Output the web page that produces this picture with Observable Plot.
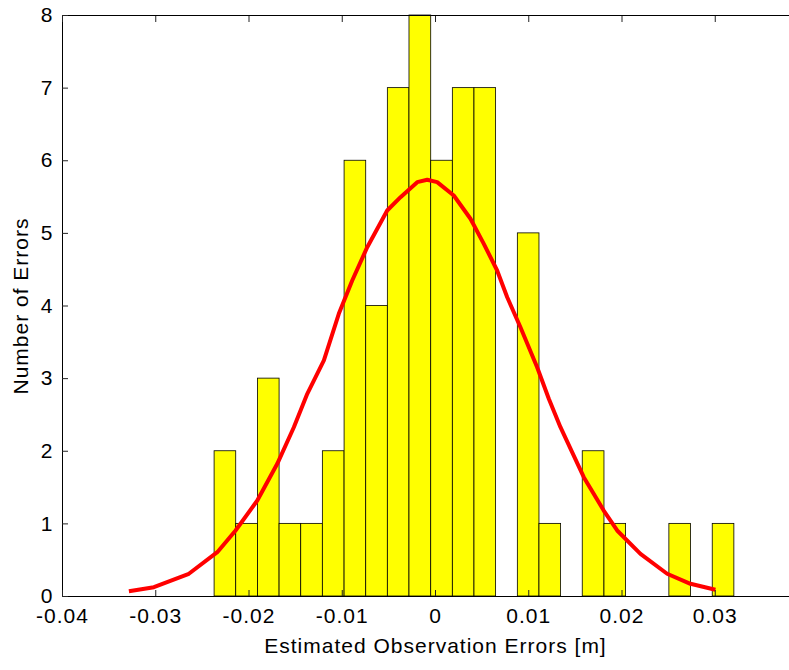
<!DOCTYPE html>
<html><head><meta charset="utf-8">
<script src="https://cdn.jsdelivr.net/npm/d3@7"></script>
<script src="https://cdn.jsdelivr.net/npm/@observablehq/plot@0.6"></script>
<style>
html,body{margin:0;padding:0;background:#fff;overflow:hidden}
#wrap{width:789px;height:670px;overflow:hidden}
#wrap svg{max-width:none !important;width:809px;height:670px}
</style>
</head><body><div id="wrap"></div>
<script>
// Histogram bin edges (m)
const binEdges = [-0.02369,-0.02137,-0.01904,-0.01672,-0.01440,-0.01208,-0.00975,-0.00743,-0.00511,-0.00279,-0.00046,0.00186,0.00418,0.00650,0.00883,0.01115,0.01347,0.01579,0.01812,0.02044,0.02276,0.02508,0.02741,0.02973,0.03205];
// Counts per bin
const counts = [2,1,3,1,1,2,6,4,7,8,6,7,7,0,5,1,0,2,1,0,0,1,0,1];
// Fitted normal curve
const fitX = [-0.03288,-0.03020,-0.02645,-0.02340,-0.02144,-0.01911,-0.01697,-0.01519,-0.01375,-0.01197,-0.01037,-0.00893,-0.00732,-0.00518,-0.00375,-0.00196,-0.00089,0.00018,0.00196,0.00375,0.00518,0.00661,0.00769,0.00911,0.01090,0.01215,0.01340,0.01590,0.01804,0.01948,0.02198,0.02484,0.02734,0.03002];
const fitY = [0.073,0.128,0.313,0.610,0.909,1.322,1.827,2.331,2.791,3.250,3.893,4.351,4.810,5.315,5.498,5.705,5.738,5.705,5.521,5.201,4.856,4.489,4.121,3.708,3.157,2.722,2.331,1.643,1.184,0.909,0.588,0.313,0.175,0.092];
// Axis ticks
const xTickValues = [-0.04,-0.03,-0.02,-0.01,0,0.01,0.02,0.03];
const xTickLabels = ["-0.04","-0.03","-0.02","-0.01","0","0.01","0.02","0.03"];
const yTickValues = [0,1,2,3,4,5,6,7,8];
const yTickLabels = ["0","1","2","3","4","5","6","7","8"];
const xLabel = "Estimated Observation Errors [m]";
const yLabel = "Number of Errors";

const bins = counts.map((c, i) => ({x1: binEdges[i], x2: binEdges[i + 1], count: c}));
const fit = fitX.map((x, i) => ({x, y: fitY[i]}));

const chart = Plot.plot({
  width: 809, height: 670,
  marginLeft: 62, marginRight: 1, marginTop: 15, marginBottom: 74,
  style: {fontFamily: "'Liberation Sans', Arial, sans-serif", fontSize: "21px", letterSpacing: "1px", background: "#fff", color: "#000", overflow: "visible", maxWidth: "none"},
  x: {domain: [-0.04, 0.04]},
  y: {domain: [0, 8]},
  marks: [
    Plot.rect(bins, {x1: "x1", x2: "x2", y1: 0, y2: "count", fill: "#ffff00", stroke: "#000", strokeWidth: 0.8}),
    Plot.line(fit, {x: "x", y: "y", stroke: "#ff0000", strokeWidth: 4, strokeLinejoin: "round", strokeLinecap: "butt"}),
    Plot.frame({stroke: "#000", strokeWidth: 1}),
    Plot.axisX({ticks: xTickValues, tickSize: 0, tickPadding: 12, tickFormat: d => xTickLabels[xTickValues.indexOf(d)], label: null}),
    Plot.axisX({ticks: xTickValues, tickSize: 6, dy: -6, tickFormat: () => "", label: null, stroke: "#222"}),
    Plot.axisX({anchor: "top", ticks: xTickValues, tickSize: 6, dy: 6, tickFormat: () => "", label: null, stroke: "#222"}),
    Plot.axisY({ticks: yTickValues, tickSize: 0, tickPadding: 9, tickFormat: d => yTickLabels[yTickValues.indexOf(d)], label: null}),
    Plot.axisY({ticks: yTickValues, tickSize: 6, dx: 6, tickFormat: () => "", label: null, stroke: "#222"}),
    Plot.text([xLabel], {frameAnchor: "bottom", dy: 50, lineAnchor: "middle", textAnchor: "middle", fontSize: 21}),
    Plot.text([yLabel], {frameAnchor: "left", dx: -41, rotate: -90, lineAnchor: "middle", textAnchor: "middle", fontSize: 21})
  ]
});
document.getElementById("wrap").appendChild(chart);
</script>
</body></html>
